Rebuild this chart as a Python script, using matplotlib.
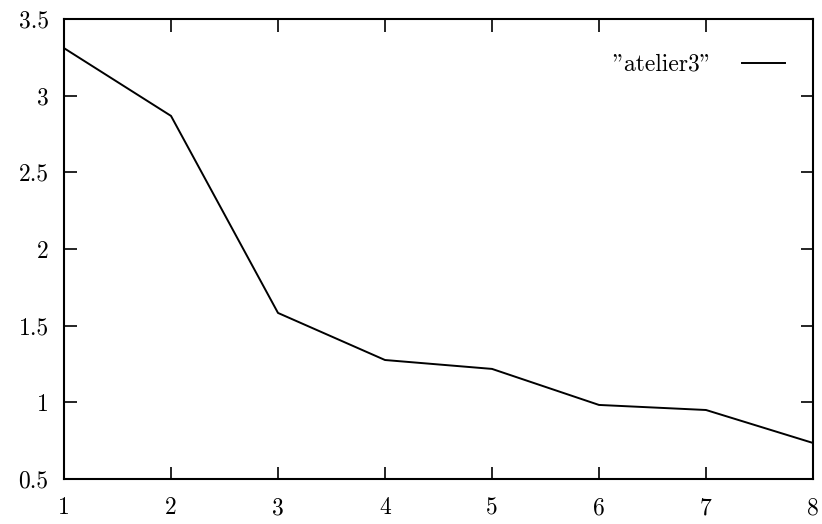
import matplotlib
matplotlib.use("Agg")
import matplotlib.pyplot as plt

x_values = [1, 2, 3, 4, 5, 6, 7, 8]
y_values = [3.31, 2.868, 1.583, 1.276, 1.218, 0.983, 0.95, 0.735]
series_label = '"atelier3"'
x_ticks = [1, 2, 3, 4, 5, 6, 7, 8]
y_ticks = [0.5, 1, 1.5, 2, 2.5, 3, 3.5]
y_tick_labels = ["0.5", "1", "1.5", "2", "2.5", "3", "3.5"]

plt.rcParams['font.family'] = ['cmr10', 'DejaVu Serif']
plt.rcParams['axes.formatter.use_mathtext'] = True

fig = plt.figure(figsize=(8.22, 5.24), dpi=100)
ax = fig.add_axes([64/822, 45/524, (813-64)/822, (479-19)/524])
ax.plot(x_values, y_values, color='black', linewidth=1.4, label=series_label)
ax.set_xlim(1, 8)
ax.set_ylim(0.5, 3.5)
ax.set_xticks(x_ticks)
ax.set_xticklabels([str(v) for v in x_ticks])
ax.set_yticks(y_ticks)
ax.set_yticklabels(y_tick_labels)
ax.tick_params(direction='in', length=9, width=1.2, top=True, right=True,
               labelsize=17, colors='black')
ax.tick_params(axis='x', pad=13)
ax.tick_params(axis='y', pad=11)
for s in ax.spines.values():
    s.set_linewidth(1.5)
leg = ax.legend(loc='upper right', frameon=False, markerfirst=False,
                fontsize=17, handlelength=1.8, handletextpad=1.3,
                borderaxespad=0.0, bbox_to_anchor=(0.975, 0.945))
fig.savefig("out.png", dpi=100)
